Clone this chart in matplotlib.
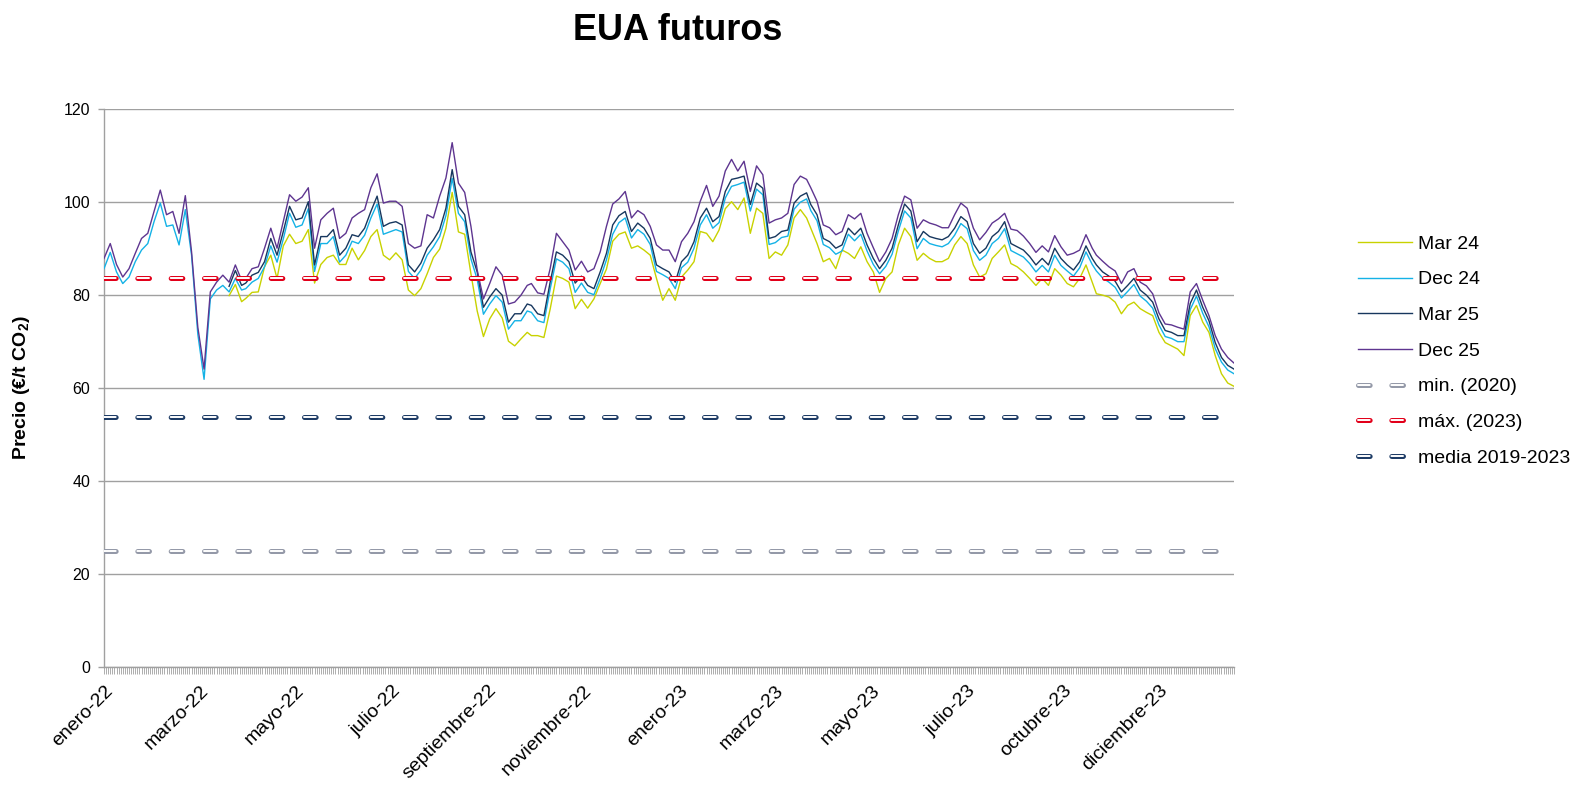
import numpy as np
import matplotlib
matplotlib.use("Agg")
import matplotlib.pyplot as plt
from matplotlib.legend_handler import HandlerTuple
from matplotlib.transforms import ScaledTranslation

plt.rcParams['font.family'] = ['Liberation Sans', 'DejaVu Sans']
plt.rcParams['mathtext.fontset'] = 'custom'
plt.rcParams['mathtext.rm'] = 'Liberation Sans'
plt.rcParams['mathtext.bf'] = 'Liberation Sans:bold'
plt.rcParams['lines.scale_dashes'] = False

# ---------------- data ----------------
title = "EUA futuros"
ylabel = r"Precio (€/t CO$_{\mathbf{2}}$)"
tick_labels = ["enero-22", "marzo-22", "mayo-22", "julio-22", "septiembre-22",
               "noviembre-22", "enero-23", "marzo-23", "mayo-23", "julio-23",
               "octubre-23", "diciembre-23"]
n_days = 543          # trading-day categories on the x axis
label_every = 46      # one label every 46 categories
n_samples = 183       # values read roughly every 3 trading days

series_names = ["Mar 24", "Dec 24", "Mar 25", "Dec 25"]

mar24 = [np.nan] * 20 + [
    79.8, 82.2, 78.5, 79.2, 80.5, 80.6,
    86.0, 88.5, 83.5, 90.5, 93.0, 91.0, 91.5, 94.0, 82.5, 86.5, 88.0, 88.5, 86.5, 86.5, 90.0, 87.5, 89.5, 92.5, 94.0, 88.5, 87.5, 89.0, 87.5, 81.0, 79.8, 81.3,
    84.5, 88.0, 89.8, 94.3, 102.0, 93.5, 93.0, 84.5, 76.5, 71.0, 74.8, 77.0, 75.0, 70.0, 69.0, 70.5, 71.9, 71.2, 71.2, 70.8, 76.9, 84.0, 83.5, 82.7, 77.0,
    79.0, 77.1, 79.1, 82.4, 85.5, 91.5, 93.0, 93.5, 90.0, 90.5, 89.6, 88.5, 83.5, 78.8, 81.3, 78.8, 83.8, 85.3, 87.1, 93.6, 93.2, 91.4, 93.9, 98.5, 100.0, 98.3,
    100.8, 93.2, 98.6, 97.5, 87.8, 89.2, 88.5, 90.7, 96.5, 98.3, 96.5, 94.3, 91.0, 87.1, 87.8, 85.6, 89.6, 88.9, 87.8, 90.3, 87.1, 84.9, 80.5, 83.5, 84.9, 90.7,
    94.3, 92.5, 87.4, 88.9, 87.8, 87.1, 87.1, 87.8, 90.7, 92.5, 91.0, 86.4, 83.8, 84.5, 87.8, 89.2, 90.7, 86.7, 86.0, 84.9, 83.5, 82.0, 83.5, 82.0, 85.6, 84.2,
    82.4, 81.7, 83.5, 86.4, 82.7, 80.2, 79.9, 79.5, 78.4, 75.9, 77.7, 78.4, 77.0, 76.2, 75.5, 71.9, 69.7, 69.0, 68.3, 66.9, 75.5, 77.7, 74.1, 71.9, 66.9, 63.0, 61.0, 60.3]

dec24 = [
    85.6, 89.1, 84.9, 82.4, 83.8, 87.1, 89.6, 91.0, 95.7, 99.7, 94.7, 95.0, 90.7, 98.3, 88.5, 71.5, 61.8, 79.1, 81.0, 82.0, 80.6, 83.5, 81.0, 81.3, 82.7, 83.5,
    86.0, 90.5, 87.0, 92.0, 97.5, 94.5, 95.0, 98.5, 85.0, 91.0, 91.0, 92.5, 87.0, 88.5, 91.5, 91.0, 92.8, 96.5, 99.5, 93.0, 93.5, 94.0, 93.5, 85.0, 83.5, 85.3,
    88.5, 90.3, 92.5, 97.0, 105.0, 97.5, 95.7, 87.7, 83.3, 75.8, 78.0, 79.8, 78.4, 72.6, 74.4, 74.4, 76.5, 76.2, 74.4, 74.0, 81.2, 87.7, 87.0, 85.6, 80.5,
    82.5, 80.5, 80.0, 83.5, 87.5, 93.0, 95.5, 96.5, 92.2, 94.0, 93.0, 90.8, 85.0, 84.3, 83.5, 81.3, 85.8, 87.0, 90.0, 95.0, 97.2, 94.3, 95.5, 100.8, 103.3, 103.7,
    104.2, 98.0, 102.7, 101.5, 90.8, 91.2, 92.3, 92.6, 98.4, 99.9, 100.6, 98.1, 95.9, 90.8, 90.1, 88.7, 89.4, 93.0, 91.6, 93.0, 89.4, 86.5, 84.5, 86.1, 88.7, 93.7,
    98.0, 96.5, 89.9, 92.1, 91.0, 90.6, 90.3, 91.0, 92.8, 95.3, 94.2, 89.5, 87.4, 88.5, 91.0, 92.1, 94.2, 89.5, 88.8, 88.1, 86.7, 84.9, 86.3, 84.9, 88.5, 86.3,
    85.1, 84.0, 85.8, 89.2, 86.5, 85.1, 83.6, 82.7, 81.6, 79.3, 80.7, 82.2, 79.7, 78.6, 77.1, 73.5, 71.0, 70.6, 69.9, 69.9, 76.8, 79.7, 76.0, 73.1, 68.4, 65.5, 63.8, 63.0]

mar25 = [np.nan] * 20 + [
    81.8, 85.2, 82.0, 82.5, 84.2, 84.8,
    87.1, 92.1, 88.5, 93.6, 99.0, 96.1, 96.5, 100.0, 86.4, 92.5, 92.5, 94.0, 88.5, 90.0, 92.9, 92.5, 94.3, 97.9, 101.2, 94.7, 95.4, 95.7, 95.0, 86.4, 84.9, 86.8,
    90.0, 91.8, 94.0, 98.6, 106.9, 99.0, 97.2, 89.2, 84.9, 77.3, 79.5, 81.3, 79.9, 74.1, 75.9, 75.9, 78.0, 77.7, 75.9, 75.5, 82.7, 89.2, 88.5, 87.1, 82.5,
    84.0, 82.0, 81.3, 84.9, 88.9, 95.0, 97.0, 97.9, 93.6, 95.4, 94.3, 92.1, 86.4, 85.6, 84.9, 82.7, 87.1, 88.5, 91.4, 96.5, 98.6, 95.7, 96.8, 102.2, 104.8, 105.1,
    105.5, 99.4, 104.0, 102.9, 92.1, 92.5, 93.6, 93.9, 99.7, 101.2, 101.9, 99.4, 97.2, 92.1, 91.4, 90.0, 90.7, 94.3, 92.9, 94.3, 90.7, 87.8, 85.6, 87.4, 90.0, 95.0,
    99.5, 98.0, 91.4, 93.6, 92.5, 92.1, 91.8, 92.5, 94.3, 96.8, 95.7, 91.0, 88.9, 90.0, 92.5, 93.6, 95.7, 91.0, 90.3, 89.6, 88.2, 86.4, 87.8, 86.4, 90.0, 87.8,
    86.4, 85.3, 87.1, 90.5, 87.8, 86.4, 84.9, 84.0, 82.9, 80.6, 82.0, 83.5, 81.0, 79.9, 78.4, 74.8, 72.3, 71.9, 71.2, 71.2, 78.1, 81.0, 77.3, 74.4, 69.7, 66.5, 64.8, 64.0]

dec25 = [
    87.8, 91.0, 86.5, 83.8, 85.6, 88.9, 92.1, 93.2, 97.9, 102.5, 97.2, 97.9, 93.2, 101.3, 89.2, 73.0, 64.0, 80.6, 82.7, 84.2, 82.7, 86.4, 83.1, 83.5, 85.6, 86.0,
    90.0, 94.3, 90.0, 95.7, 101.5, 100.1, 101.0, 103.0, 90.0, 96.1, 97.5, 98.6, 92.1, 93.2, 96.5, 97.5, 98.3, 103.0, 106.0, 99.7, 100.1, 100.1, 99.0, 91.0, 90.0, 90.5,
    97.2, 96.5, 101.2, 105.1, 112.7, 104.0, 102.0, 94.7, 85.3, 79.1, 82.4, 86.0, 84.2, 78.0, 78.4, 79.9, 82.0, 82.4, 80.4, 80.1, 85.6, 93.2, 91.4, 89.6, 85.3,
    87.2, 84.9, 85.6, 89.2, 94.7, 99.5, 100.6, 102.2, 96.5, 98.1, 97.2, 94.7, 90.7, 89.6, 89.6, 87.1, 91.4, 93.2, 95.7, 100.1, 103.5, 99.0, 101.2, 106.6, 109.1, 106.6,
    108.7, 102.2, 107.7, 105.8, 95.4, 96.1, 96.5, 97.5, 103.7, 105.5, 104.8, 103.0, 100.1, 95.0, 94.4, 92.9, 93.6, 97.2, 96.3, 97.5, 93.2, 90.1, 87.1, 89.2, 92.1, 97.2,
    101.2, 100.4, 94.3, 96.1, 95.4, 95.0, 94.4, 94.4, 97.2, 99.7, 98.6, 94.3, 91.8, 93.4, 95.4, 96.3, 97.5, 94.1, 93.8, 92.6, 91.0, 89.1, 90.5, 89.2, 92.7, 90.3,
    88.5, 88.9, 89.6, 92.9, 90.0, 88.5, 87.2, 86.0, 85.1, 82.4, 84.9, 85.6, 82.7, 81.9, 80.2, 76.1, 73.7, 73.5, 73.0, 72.6, 80.6, 82.4, 78.8, 75.5, 71.2, 68.3, 66.5, 65.3]

ref_names = ["min. (2020)", "máx. (2023)", "media 2019-2023"]
ref_values = [24.8, 83.5, 53.6]

# ---------------- styles ----------------
series_colors = ["#C8D200", "#14B2E6", "#17375E", "#5E3590"]
ref_colors = ["#9499A8", "#E2001A", "#1E3C66"]
grid_grey = "#A0A0A0"

W, H = 1581, 785
fig = plt.figure(figsize=(W / 100, H / 100), dpi=100)
ax_l, ax_r, ax_b, ax_t = 104, 1234, 666.7, 108.7
ax = fig.add_axes([ax_l / W, 1 - ax_b / H, (ax_r - ax_l) / W, (ax_b - ax_t) / H])

days = np.round(np.arange(n_samples) * (n_days - 1) / (n_samples - 1))

handles = []
for name, vals, col in zip(series_names, [mar24, dec24, mar25, dec25], series_colors):
    ln, = ax.plot(days, np.array(vals, dtype=float), color=col, lw=1.0, zorder=3)
    handles.append(ln)

lw_out, lw_in = 3.6, 1.4
on, off = 12.0 - lw_out, 12.0 + lw_out
for name, v, col in zip(ref_names, ref_values, ref_colors):
    outer, = ax.plot([0, n_days - 1], [v, v], color=col, lw=lw_out,
                     linestyle=(0, (on, off)), dash_capstyle='round', zorder=5)
    inner, = ax.plot([0, n_days - 1], [v, v], color='white', lw=lw_in,
                     linestyle=(0, (on, off)), dash_capstyle='round', zorder=6)
    handles.append((outer, inner))

ax.set_xlim(0, n_days - 1)
ax.set_ylim(0, 120)
ax.set_yticks(np.arange(0, 121, 20))
ax.yaxis.grid(True, color=grid_grey, lw=1.0)
ax.set_axisbelow(True)

major = np.arange(0, n_days, label_every)[:len(tick_labels)]
ax.set_xticks(major)
ax.set_xticks(np.arange(n_days), minor=True)
ax.set_xticklabels(tick_labels, rotation=45, ha='right', va='top',
                   rotation_mode='anchor', fontsize=14)
for lbl in ax.get_xticklabels():
    lbl.set_transform(lbl.get_transform() + ScaledTranslation(6 / 100, 0, fig.dpi_scale_trans))
ax.tick_params(axis='x', which='both', length=5, width=0.6, color=grid_grey,
               direction='out', pad=6)
ax.tick_params(axis='y', length=4, width=1.0, color=grid_grey, pad=6, labelsize=11.5)

for s in ['top', 'right']:
    ax.spines[s].set_visible(False)
for s in ['left', 'bottom']:
    ax.spines[s].set_color(grid_grey)
    ax.spines[s].set_linewidth(1.0)

fig.text(678 / W, 1 - 30 / H, title, fontsize=26, fontweight='bold', ha='center', va='center')
fig.text(22 / W, 1 - 388 / H, ylabel, fontsize=14, fontweight='bold', rotation=90,
         ha='center', va='center')

labels = series_names + ref_names
fig.legend(handles, labels, loc='center left', bbox_to_anchor=(1358 / W, 1 - 351 / H),
           frameon=False, fontsize=14, handlelength=2.8, handletextpad=0.3,
           labelspacing=0.93, borderpad=0, borderaxespad=0,
           handler_map={tuple: HandlerTuple(ndivide=1)})

fig.savefig("out.png", dpi=100)
